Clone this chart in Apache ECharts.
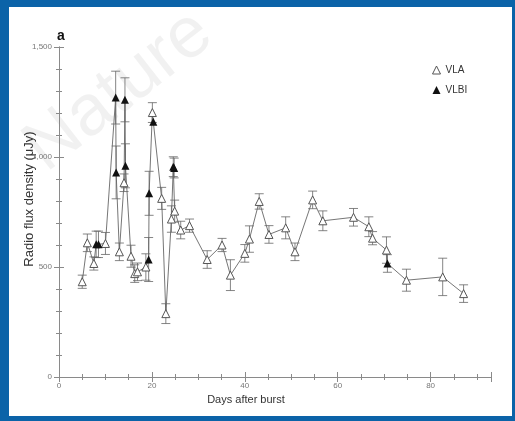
<!DOCTYPE html>
<html>
<head>
<meta charset="utf-8">
<script src="https://cdn.jsdelivr.net/npm/echarts@6/dist/echarts.min.js"></script>
<style>
html,body{margin:0;padding:0;width:515px;height:421px;overflow:hidden;background:#0b63a8;}
#panel{position:absolute;left:9px;top:7px;width:503px;height:409px;background:#fff;}
#chart{position:absolute;left:0;top:0;width:515px;height:421px;}
</style>
</head>
<body>
<div id="panel"></div>
<div id="chart"></div>
<script>
// VLA (open triangles)
const vlaDays = [5.0, 6.1, 7.5, 10.0, 13.0, 14.0, 15.5, 16.3, 16.9, 18.7, 20.1, 22.1, 23.0, 24.2, 24.9, 26.2, 28.1, 31.9, 35.1, 36.9, 40.0, 41.0, 43.1, 45.2, 48.8, 50.8, 54.6, 56.8, 63.4, 66.7, 67.5, 70.5, 74.8, 82.6, 87.1];
const vlaFlux = [433, 610, 516, 607, 569, 883, 549, 470, 478, 500, 1202, 812, 288, 718, 754, 668, 688, 534, 600, 463, 562, 627, 798, 648, 678, 569, 805, 710, 726, 683, 631, 577, 440, 455, 379];
const vlaErr  = [30, 40, 30, 50, 40, 40, 50, 40, 40, 60, 45, 50, 45, 60, 50, 40, 30, 40, 30, 70, 40, 60, 35, 40, 50, 40, 40, 45, 40, 45, 30, 60, 50, 85, 40];
// VLBI (filled triangles)
const vlbiDays = [8.0, 8.5, 12.2, 12.3, 14.2, 14.3, 19.3, 19.4, 20.3, 24.6, 24.8, 70.7];
const vlbiFlux = [603, 603, 1270, 930, 1260, 960, 534, 835, 1160, 956, 950, 516];
const vlbiErr  = [60, 60, 120, 120, 100, 100, 100, 100, 0, 45, 45, 40];

const xTicks = [0, 20, 40, 60, 80];
const yTicks = [0, 500, 1000, 1500];

const vlaData = vlaDays.map((d, i) => [d, vlaFlux[i]]);
const vlbiData = vlbiDays.map((d, i) => [d, vlbiFlux[i]]);
const lineData = vlaData.concat(vlbiData).sort((a, b) => a[0] - b[0]);
const errData = vlaDays.map((d, i) => [d, vlaFlux[i] - vlaErr[i], vlaFlux[i] + vlaErr[i]])
  .concat(vlbiDays.map((d, i) => [d, vlbiFlux[i] - vlbiErr[i], vlbiFlux[i] + vlbiErr[i]]))
  .filter(e => e[2] > e[1]);

const chart = echarts.init(document.getElementById('chart'), null, {renderer: 'canvas'});
const axisCol = '#8a8a8a';
const FONT = 'Liberation Sans, Arial, sans-serif';
const labelStyle = {color: '#777', fontSize: 8, fontFamily: FONT};

function fmt(v) { return v >= 1000 ? Math.floor(v / 1000) + ',' + String(v % 1000).padStart(3, '0') : String(v); }

const tickMajor = {show: true, inside: true, length: 5, lineStyle: {color: axisCol}};
const tickMinor = {show: true, length: 3, lineStyle: {color: axisCol}};

chart.setOption({
  animation: false,
  backgroundColor: 'transparent',
  grid: {left: 59, top: 47, width: 432, height: 330},
  graphic: [
    {type: 'text', left: 57, top: 29, style: {text: 'a', font: 'bold 14px ' + FONT, fill: '#111'}},
    {type: 'text', x: 56, y: 186, rotation: 38 * Math.PI / 180, z: -1,
      style: {text: 'Nature', font: '72px ' + FONT, fill: 'rgba(0,0,0,0.055)', align: 'left', verticalAlign: 'bottom'}}
  ],
  legend: {
    orient: 'vertical', left: 427, top: 60, itemGap: 10, itemWidth: 8, itemHeight: 8,
    textStyle: {color: '#333', fontSize: 10, fontFamily: FONT},
    data: [
      {name: 'VLA', icon: 'triangle', itemStyle: {color: '#fff', borderColor: '#555', borderWidth: 1}},
      {name: 'VLBI', icon: 'triangle', itemStyle: {color: '#111'}}
    ]
  },
  xAxis: [
    {type: 'value', min: 0, max: 93, interval: 20, position: 'bottom',
      axisLine: {lineStyle: {color: axisCol, width: 1}},
      axisTick: tickMajor, minorTick: Object.assign({splitNumber: 4}, tickMinor),
      splitLine: {show: false},
      axisLabel: Object.assign({margin: 5, formatter: v => xTicks.includes(v) ? String(v) : ''}, labelStyle),
      name: 'Days after burst', nameLocation: 'middle', nameGap: 16,
      nameTextStyle: {color: '#333', fontSize: 11, fontFamily: FONT, padding: [0, 58, 0, 0]}},
    {type: 'value', min: 0, max: 93, interval: 20, position: 'top',
      axisLine: {lineStyle: {color: axisCol, width: 1}},
      axisTick: tickMajor, minorTick: Object.assign({splitNumber: 4}, tickMinor),
      splitLine: {show: false}, axisLabel: {show: false}}
  ],
  yAxis: [
    {type: 'value', min: 0, max: 1500, interval: 500, position: 'left',
      axisLine: {show: true, lineStyle: {color: axisCol, width: 1}},
      axisTick: tickMajor, minorTick: Object.assign({splitNumber: 5}, tickMinor),
      splitLine: {show: false},
      axisLabel: Object.assign({margin: 7, formatter: v => yTicks.includes(v) ? fmt(v) : ''}, labelStyle),
      name: 'Radio flux density (\u03bcJy)', nameLocation: 'middle', nameGap: 23, nameRotate: 90,
      nameMoveOverlap: false,
      nameTextStyle: {color: '#333', fontSize: 13, fontFamily: FONT, padding: [0, 0, 0, 26]}},
    {type: 'value', min: 0, max: 1500, interval: 500, position: 'right',
      axisLine: {show: true, lineStyle: {color: axisCol, width: 1}},
      axisTick: tickMajor, minorTick: Object.assign({splitNumber: 5}, tickMinor),
      splitLine: {show: false}, axisLabel: {show: false}}
  ],
  series: [
    {type: 'line', name: 'path', data: lineData, showSymbol: false, symbol: 'none',
      lineStyle: {color: '#666', width: 0.9}, z: 2, silent: true},
    {type: 'custom', name: 'err', data: errData, z: 3, silent: true,
      renderItem: function (params, api) {
        const top = api.coord([api.value(0), api.value(2)]);
        const bot = api.coord([api.value(0), api.value(1)]);
        const w = 4.5;
        const st = {stroke: '#666', lineWidth: 0.8};
        return {type: 'group', children: [
          {type: 'line', shape: {x1: top[0], y1: top[1], x2: bot[0], y2: bot[1]}, style: st},
          {type: 'line', shape: {x1: top[0] - w, y1: top[1], x2: top[0] + w, y2: top[1]}, style: st},
          {type: 'line', shape: {x1: bot[0] - w, y1: bot[1], x2: bot[0] + w, y2: bot[1]}, style: st}
        ]};
      }},
    {type: 'scatter', name: 'VLA', data: vlaData, symbol: 'triangle', symbolSize: 8,
      itemStyle: {color: '#fff', borderColor: '#555', borderWidth: 1, opacity: 1}, z: 4},
    {type: 'scatter', name: 'VLBI', data: vlbiData, symbol: 'triangle', symbolSize: 8,
      itemStyle: {color: '#111', opacity: 1}, z: 5}
  ]
});
</script>
</body>
</html>
